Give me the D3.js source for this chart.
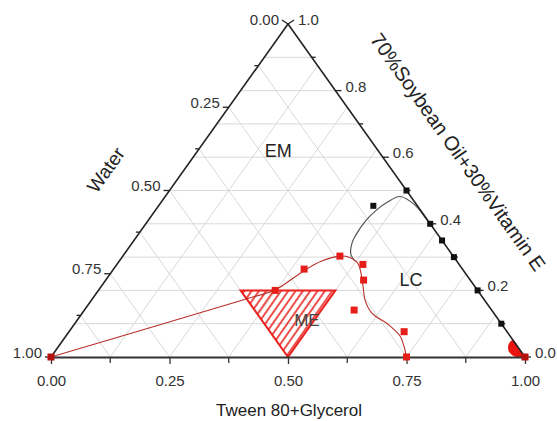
<!DOCTYPE html>
<html>
<head>
<meta charset="utf-8">
<script src="https://cdn.jsdelivr.net/npm/d3@7"></script>
<style>
  body { margin: 0; background: #fff; }
  svg { display: block; font-family: "Liberation Sans", Arial, sans-serif; }
</style>
</head>
<body>
<svg id="chart" width="557" height="421"></svg>
<script>
// all compositions are [tween, oil]; water = 1 - tween - oil
const bottomTicks = [0, 0.25, 0.5, 0.75, 1];
const bottomMinor = [0.125, 0.375, 0.625, 0.875];
const waterTicks = [0, 0.25, 0.5, 0.75, 1];
const waterMinor = [0.125, 0.375, 0.625, 0.875];
const oilTicks = [0, 0.2, 0.4, 0.6, 0.8, 1];
const oilMinor = [0.1, 0.3, 0.5, 0.7, 0.9];
const gridTween = [0.125, 0.25, 0.375, 0.5, 0.625, 0.75, 0.875];
const gridWater = [0.125, 0.25, 0.375, 0.5, 0.625, 0.75, 0.875];
const gridOil = [0.1, 0.2, 0.3, 0.4, 0.5, 0.6, 0.7, 0.8, 0.9];

// black points on the oil / surfactant edge and the one inside
const blackPoints = [[0.5, 0.5], [0.6, 0.4], [0.65, 0.35], [0.7, 0.3], [0.8, 0.2], [0.9, 0.1], [0.453, 0.454]];
// red points
const redPoints = [[0, 0], [0.373, 0.2], [0.402, 0.264], [0.458, 0.303], [0.519, 0.278], [0.544, 0.231],
                   [0.569, 0.141], [0.707, 0.076], [0.75, 0], [1, 0]];
// boundary curves
const redCurve = [[0, 0], [0.336, 0.18], [0.372, 0.201], [0.403, 0.257], [0.427, 0.288], [0.458, 0.303],
                  [0.481, 0.299], [0.503, 0.285], [0.518, 0.267], [0.55, 0.216], [0.577, 0.171],
                  [0.611, 0.132], [0.661, 0.099], [0.705, 0.063], [0.728, 0.033], [0.75, 0]];
const grayCurve = [[0.497, 0.288], [0.478, 0.309], [0.464, 0.342], [0.46, 0.366], [0.459, 0.406],
                   [0.466, 0.441], [0.478, 0.466], [0.495, 0.482], [0.54, 0.456], [0.588, 0.411], [0.6, 0.4]];
// microemulsion region and the small gel spot at the surfactant corner
const meRegion = [[0.3, 0.2], [0.5, 0.2], [0.5, 0]];
const redSpot = [[0.949, 0.051], [0.985, 0.015], [1, 0], [0.981, 0], [0.959, 0.015], [0.948, 0.033], [0.946, 0.045]];
const regionLabels = [{ text: "EM", t: 0.17, o: 0.619 }, { text: "LC", t: 0.644, o: 0.231 }, { text: "ME", t: 0.485, o: 0.11 }];

const svg = d3.select("#chart");
const xs = d3.scaleLinear().domain([0, 1]).range([51, 525]);
const ys = d3.scaleLinear().domain([0, 1]).range([357, 24]);
const pt = (t, o) => [xs(t + o / 2), ys(o)];

const defs = svg.append("defs");
defs.append("pattern")
    .attr("id", "hatch")
    .attr("patternUnits", "userSpaceOnUse")
    .attr("width", 6).attr("height", 6)
    .attr("patternTransform", "rotate(35)")
  .append("line")
    .attr("x1", 1).attr("y1", 0).attr("x2", 1).attr("y2", 6)
    .attr("stroke", "#e8231f").attr("stroke-width", 1.6);

// grid
const grid = svg.append("g").attr("stroke", "#d9d9d9").attr("stroke-width", 1);
gridOil.forEach(o => {
    const a = pt(0, o), b = pt(1 - o, o);
    grid.append("line").attr("x1", a[0]).attr("y1", a[1]).attr("x2", b[0]).attr("y2", b[1]);
});
gridTween.forEach(t => {
    const a = pt(t, 0), b = pt(t, 1 - t);
    grid.append("line").attr("x1", a[0]).attr("y1", a[1]).attr("x2", b[0]).attr("y2", b[1]);
});
gridWater.forEach(w => {
    const a = pt(1 - w, 0), b = pt(0, 1 - w);
    grid.append("line").attr("x1", a[0]).attr("y1", a[1]).attr("x2", b[0]).attr("y2", b[1]);
});

// ME hatched triangle
const poly = d3.line().x(d => pt(d[0], d[1])[0]).y(d => pt(d[0], d[1])[1]);
svg.append("path")
    .attr("d", poly(meRegion) + "Z")
    .attr("fill", "url(#hatch)")
    .attr("stroke", "#e8231f")
    .attr("stroke-width", 2);

// curves
const smooth = d3.line().x(d => pt(d[0], d[1])[0]).y(d => pt(d[0], d[1])[1]).curve(d3.curveCatmullRom);
svg.append("path").attr("d", smooth(grayCurve)).attr("fill", "none").attr("stroke", "#555").attr("stroke-width", 1.2);
svg.append("path").attr("d", smooth(redCurve)).attr("fill", "none").attr("stroke", "#b8302c").attr("stroke-width", 1.1);

svg.append("path")
    .attr("d", d3.line().x(d => pt(d[0], d[1])[0]).y(d => pt(d[0], d[1])[1]).curve(d3.curveCatmullRomClosed)(redSpot))
    .attr("fill", "#e8140f");

// axes
const axisColor = "#222";
const A = pt(0, 1), L = pt(0, 0), R = pt(1, 0);
svg.append("line").attr("x1", L[0]).attr("y1", L[1]).attr("x2", A[0]).attr("y2", A[1])
    .attr("stroke", axisColor).attr("stroke-width", 1.6);
svg.append("line").attr("x1", R[0]).attr("y1", R[1]).attr("x2", A[0]).attr("y2", A[1])
    .attr("stroke", axisColor).attr("stroke-width", 1.6);

const bottom = svg.append("g")
    .attr("transform", `translate(0,${ys(0)})`)
    .call(d3.axisBottom(xs).tickValues(bottomTicks).tickFormat(d3.format(".2f"))
        .tickSize(7).tickSizeOuter(0).tickPadding(11));
bottom.select(".domain").attr("stroke", "#333").attr("stroke-width", 2.2);
bottom.selectAll(".tick line").attr("stroke", "#333").attr("stroke-width", 1.3);
bottom.selectAll(".tick text").attr("font-size", 15).attr("fill", "#333")
    .attr("font-family", "Liberation Sans, Arial, sans-serif");
bottomMinor.forEach(t => {
    bottom.append("line").attr("x1", xs(t)).attr("x2", xs(t)).attr("y1", 0).attr("y2", 6)
        .attr("stroke", "#333").attr("stroke-width", 1.3);
});

const ticks = svg.append("g").attr("stroke", axisColor).attr("stroke-width", 1.3);
const labels = svg.append("g").attr("font-size", 15).attr("fill", "#333");

// at the apex the two ticks lean upward, elsewhere they are horizontal
waterTicks.forEach(w => {
    const p = pt(0, 1 - w);
    const dy = w === 0 ? -4 : 0;
    ticks.append("line").attr("x1", p[0]).attr("y1", p[1]).attr("x2", p[0] - 6).attr("y2", p[1] + dy);
    labels.append("text").attr("x", p[0] - 9).attr("y", p[1] - 5)
        .attr("text-anchor", "end").attr("dominant-baseline", "central")
        .text(d3.format(".2f")(w));
});
waterMinor.forEach(w => {
    const p = pt(0, 1 - w);
    ticks.append("line").attr("x1", p[0]).attr("y1", p[1]).attr("x2", p[0] - 4).attr("y2", p[1]);
});
oilTicks.forEach(o => {
    const p = pt(1 - o, o);
    const dy = o === 1 ? -4 : 0;
    ticks.append("line").attr("x1", p[0]).attr("y1", p[1]).attr("x2", p[0] + 6).attr("y2", p[1] + dy);
    labels.append("text").attr("x", p[0] + 10).attr("y", p[1] - 4.5)
        .attr("text-anchor", "start").attr("dominant-baseline", "central")
        .text(d3.format(".1f")(o));
});
oilMinor.forEach(o => {
    const p = pt(1 - o, o);
    ticks.append("line").attr("x1", p[0]).attr("y1", p[1]).attr("x2", p[0] + 4).attr("y2", p[1]);
});

// points
const sq = 7;
svg.append("g").selectAll("rect").data(redPoints).join("rect")
    .attr("x", d => pt(d[0], d[1])[0] - sq / 2)
    .attr("y", d => pt(d[0], d[1])[1] - sq / 2)
    .attr("width", sq).attr("height", sq)
    .attr("fill", d => d[1] === 0 && (d[0] === 0 || d[0] === 1) ? "#b3120f" : "#e51e1a");
const bq = 6;
svg.append("g").selectAll("rect").data(blackPoints).join("rect")
    .attr("x", d => pt(d[0], d[1])[0] - bq / 2)
    .attr("y", d => pt(d[0], d[1])[1] - bq / 2)
    .attr("width", bq).attr("height", bq)
    .attr("fill", "#111");

// region labels
svg.append("g").selectAll("text").data(regionLabels).join("text")
    .attr("x", d => pt(d.t, d.o)[0])
    .attr("y", d => pt(d.t, d.o)[1])
    .attr("text-anchor", "middle").attr("dominant-baseline", "central")
    .attr("font-size", d => d.text === "ME" ? 17 : 18)
    .attr("fill", d => d.text === "ME" ? "#444" : "#222")
    .text(d => d.text);

// axis titles
svg.append("text")
    .attr("transform", "translate(106,170) rotate(-54.6)")
    .attr("text-anchor", "middle").attr("dominant-baseline", "central")
    .attr("font-size", 19).attr("fill", "#222")
    .text("Water");
svg.append("text")
    .attr("transform", "translate(458,152) rotate(54.6)")
    .attr("text-anchor", "middle").attr("dominant-baseline", "central")
    .attr("font-size", 20).attr("fill", "#222")
    .text("70%Soybean Oil+30%Vitamin E");
svg.append("text")
    .attr("x", 289).attr("y", 410)
    .attr("text-anchor", "middle").attr("dominant-baseline", "central")
    .attr("font-size", 17).attr("fill", "#222")
    .text("Tween 80+Glycerol");
</script>
</body>
</html>
